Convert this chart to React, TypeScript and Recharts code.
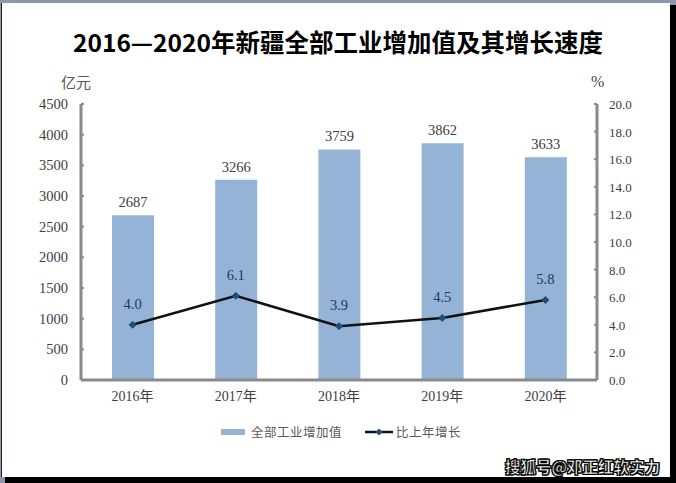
import React from "react";
import {
  ComposedChart,
  Bar,
  Line,
  XAxis,
  YAxis,
  LabelList,
  Legend,
} from "recharts";

const years = ["2016年", "2017年", "2018年", "2019年", "2020年"];
const industryValue = [2687, 3266, 3759, 3862, 3633];
const growthRate = [4.0, 6.1, 3.9, 4.5, 5.8];
const leftTicks = [0, 500, 1000, 1500, 2000, 2500, 3000, 3500, 4000, 4500];
const rightTicks = [0, 2, 4, 6, 8, 10, 12, 14, 16, 18, 20];

const data = years.map((y, i) => ({
  year: y,
  value: industryValue[i],
  rate: growthRate[i],
}));

const SERIF = '"Liberation Serif", "Times New Roman", "Noto Sans CJK SC", serif';
const SANS = '"Noto Sans CJK SC", "Noto Sans", sans-serif';
const AXIS = "#8a8a8a";
const BAR = "#95b3d7";
const LINE = "#111111";
const MARK = "#1f4e79";

const LeftTick = (props: any) => {
  const { x, y, payload } = props;
  return (
    <g>
      <line x1={x} y1={y} x2={x + 3} y2={y} stroke={AXIS} strokeWidth={2} />
      <text x={x - 13} y={y} dy={5} textAnchor="end" fontFamily={SERIF} fontSize={14.5} fill="#404040">
        {payload.value}
      </text>
    </g>
  );
};

const RightTick = (props: any) => {
  const { x, y, payload } = props;
  return (
    <g>
      <line x1={x} y1={y} x2={x - 3} y2={y} stroke={AXIS} strokeWidth={2} />
      <text x={x + 12} y={y} dy={5} textAnchor="start" fontFamily={SERIF} fontSize={13} fill="#404040">
        {Number(payload.value).toFixed(1)}
      </text>
    </g>
  );
};

const XTick = (props: any) => {
  const { x, y, payload } = props;
  return (
    <text x={x} y={y} dy={19} textAnchor="middle" fontFamily={SERIF} fontSize={14} fill="#404040">
      {payload.value}
    </text>
  );
};

const Diamond = (props: any) => {
  const { cx, cy } = props;
  if (cx == null || cy == null) return null;
  return (
    <path
      d={`M${cx},${cy - 3.5} L${cx + 3.5},${cy} L${cx},${cy + 3.5} L${cx - 3.5},${cy} Z`}
      fill={MARK}
      stroke={MARK}
    />
  );
};

const LegendContent = () => (
  <div style={{ position: "relative", height: 20, width: 676, fontFamily: SANS, fontSize: 12.5, color: "#595959" }}>
    <div style={{ position: "absolute", left: 221, top: 7, width: 24, height: 6, background: BAR }} />
    <div style={{ position: "absolute", left: 251, top: 0, lineHeight: "20px", letterSpacing: 0.5 }}>全部工业增加值</div>
    <svg style={{ position: "absolute", left: 364, top: 4 }} width={30} height={12}>
      <line x1={1} y1={6} x2={29} y2={6} stroke={LINE} strokeWidth={2.5} />
      <path d="M15,2.5 L18.5,6 L15,9.5 L11.5,6 Z" fill={MARK} />
    </svg>
    <div style={{ position: "absolute", left: 396, top: 0, lineHeight: "20px", letterSpacing: 0.5 }}>比上年增长</div>
  </div>
);

export default function App() {
  return (
    <div style={{ position: "absolute", left: 0, top: 0, width: 676, height: 483, background: "#8e97ab", overflow: "hidden" }}>
      <div style={{ position: "absolute", left: 5, top: 5, width: 671, height: 478, background: "#000" }} />
      <div style={{ position: "absolute", left: 1, top: 3, width: 669, height: 474, background: "#fff", borderLeft: "1px solid #222", boxSizing: "border-box" }} />
      <div
        style={{
          position: "absolute",
          left: 0,
          top: 24,
          width: 676,
          textAlign: "center",
          fontFamily: SANS,
          fontWeight: 700,
          fontSize: 24.5,
          color: "#000",
          lineHeight: "36px",
        }}
      >
        2016—2020年新疆全部工业增加值及其增长速度
      </div>
      <div style={{ position: "absolute", left: 61, top: 72, fontFamily: SANS, fontSize: 15, color: "#595959", lineHeight: "20px" }}>亿元</div>
      <div style={{ position: "absolute", left: 591, top: 72, fontFamily: SERIF, fontSize: 16, color: "#404040", lineHeight: "20px" }}>%</div>
      <div style={{ position: "absolute", left: 0, top: 0 }}>
        <ComposedChart
          width={676}
          height={483}
          data={data}
          margin={{ top: 104, right: 0, bottom: 53, left: 0 }}
          barCategoryGap={0}
        >
          <XAxis
            dataKey="year"
            axisLine={{ stroke: AXIS, strokeWidth: 3 }}
            tickLine={false}
            tickSize={0}
            tick={<XTick />}
            height={30}
            interval={0}
          />
          <YAxis
            yAxisId="left"
            orientation="left"
            domain={[0, 4500]}
            ticks={leftTicks}
            width={81}
            axisLine={{ stroke: AXIS, strokeWidth: 3 }}
            tickLine={false}
            tickSize={0}
            tickMargin={0}
            tick={<LeftTick />}
            interval={0}
          />
          <YAxis
            yAxisId="right"
            orientation="right"
            domain={[0, 20]}
            ticks={rightTicks}
            width={79}
            axisLine={{ stroke: AXIS, strokeWidth: 3 }}
            tickLine={false}
            tickSize={0}
            tickMargin={0}
            tick={<RightTick />}
            interval={0}
          />
          <Legend
            verticalAlign="bottom"
            wrapperStyle={{ position: "absolute", left: 0, top: 422, width: 676 }}
            content={<LegendContent />}
          />
          <Bar yAxisId="left" dataKey="value" fill={BAR} barSize={42} isAnimationActive={false}>
            <LabelList dataKey="value" position="top" offset={8} fill="#404040" fontFamily={SERIF} fontSize={14.5} />
          </Bar>
          <Line
            yAxisId="right"
            dataKey="rate"
            stroke={LINE}
            strokeWidth={2.5}
            dot={<Diamond />}
            activeDot={false}
            isAnimationActive={false}
          >
            <LabelList
              dataKey="rate"
              position="top"
              offset={16}
              fill="#1f3a5f"
              fontFamily={SERIF}
              fontSize={14.5}
              formatter={(v: any) => Number(v).toFixed(1)}
            />
          </Line>
        </ComposedChart>
      </div>
      <div
        style={{
          position: "absolute",
          left: 505,
          top: 455,
          fontFamily: SANS,
          fontWeight: 700,
          fontSize: 15.5,
          color: "#fff",
          lineHeight: "22px",
          WebkitTextStroke: "0.6px #000",
          textShadow: "0 0 1px #000, 1px 1px 0 #000, -1px -1px 0 #000, 1px -1px 0 #000, -1px 1px 0 #000",
        }}
      >
        搜狐号@邓正红软实力
      </div>
    </div>
  );
}
